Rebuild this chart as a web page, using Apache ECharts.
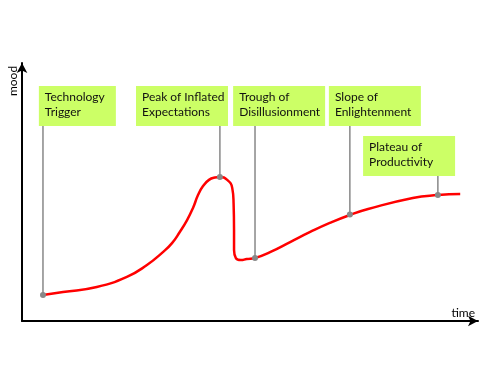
<!DOCTYPE html>
<html>
<head>
<meta charset="utf-8">
<script src="https://cdn.jsdelivr.net/npm/echarts@6/dist/echarts.min.js"></script>
<style>
html,body{margin:0;padding:0;background:#fff;}
#chart{width:500px;height:375px;}
</style>
</head>
<body>
<div id="chart"></div>
<script>
// Hype curve (time, mood), axes 0..100
const curveTime = [4.6, 9.0, 16.4, 23.0, 27.4, 30.9, 32.9, 34.6, 36.2, 37.5, 38.6, 39.7, 41.0, 42.3, 43.4, 45.0, 46.1, 46.4, 46.5, 46.5, 46.9, 48.0, 49.3, 51.1, 54.4, 58.8, 63.2, 67.5, 71.9, 75.9, 85.7, 91.2, 96.1];
const curveMood = [10.1, 11.2, 13.2, 17.1, 21.7, 26.7, 30.2, 34.5, 39.1, 43.8, 48.8, 52.3, 54.7, 55.6, 55.8, 54.7, 51.6, 45.7, 35.3, 27.5, 24.4, 23.6, 24.0, 24.4, 26.7, 30.6, 34.5, 38.0, 41.1, 43.4, 47.7, 48.8, 49.2];

// Phases
const phaseNames = ['Technology\nTrigger', 'Peak of Inflated\nExpectations', 'Trough of\nDisillusionment', 'Slope of\nEnlightenment', 'Plateau of\nProductivity'];
const phaseTime = [4.6, 43.4, 51.1, 71.9, 91.2];
const phaseMood = [10.1, 55.8, 24.4, 41.3, 48.8];

// Label box placement (layout: anchor in axis units, size in pixels)
const boxLeft = [3.7, 25.0, 46.3, 67.3, 74.8];
const boxTop = [91.1, 91.1, 91.1, 91.1, 71.7];
const boxWidth = [77, 92, 92, 92, 92];
const BOX_H = 40;

const axisNames = ['time', 'mood'];

const chart = echarts.init(document.getElementById('chart'), null, {renderer: 'canvas'});

const curveData = curveTime.map((t, i) => [t, curveMood[i]]);
const phaseData = phaseTime.map((t, i) => [t, phaseMood[i], boxLeft[i], boxTop[i], i]);

const axisCommon = {
  type: 'value', min: 0, max: 100,
  axisTick: {show: false}, axisLabel: {show: false}, splitLine: {show: false},
  axisLine: {show: true, symbol: ['none', 'arrow'], symbolSize: [8, 10], lineStyle: {color: '#000', width: 2}}
};

chart.setOption({
  animation: false,
  grid: {left: 22, right: 22, top: 63, bottom: 54},
  graphic: [{
    type: 'text', x: 13, y: 81, rotation: Math.PI / 2,
    style: {text: axisNames[1], align: 'center', verticalAlign: 'middle', font: '12px Lato', fill: '#000'}
  }],
  xAxis: Object.assign({}, axisCommon, {
    name: axisNames[0], nameLocation: 'end', nameGap: -3,
    nameTextStyle: {color: '#000', fontFamily: 'Lato', fontSize: 12, align: 'right', verticalAlign: 'bottom', padding: [0, 0, 2, 0]}
  }),
  yAxis: Object.assign({}, axisCommon),
  series: [
    {
      type: 'line', data: curveData, smooth: 0.5, showSymbol: false, z: 2,
      lineStyle: {color: '#ff0000', width: 2.5}
    },
    {
      type: 'custom', data: phaseData, z: 3, clip: false,
      encode: {x: 0, y: 1},
      renderItem: function (params, api) {
        const i = api.value(4);
        const p = api.coord([api.value(0), api.value(1)]);
        const tl = api.coord([api.value(2), api.value(3)]);
        const w = boxWidth[i];
        return {
          type: 'group',
          children: [
            {type: 'line', shape: {x1: p[0], y1: p[1], x2: p[0], y2: tl[1] + BOX_H}, style: {stroke: '#888', lineWidth: 1.5}},
            {type: 'rect', shape: {x: tl[0], y: tl[1], width: w, height: BOX_H}, style: {fill: '#ccff66'}},
            {type: 'text', style: {text: phaseNames[i], x: tl[0] + 6, y: tl[1] + BOX_H / 2 - 1, verticalAlign: 'middle', align: 'left', font: '12px Lato', lineHeight: 15, fill: '#111'}},
            {type: 'circle', shape: {cx: p[0], cy: p[1], r: 3}, style: {fill: '#888'}}
          ]
        };
      }
    }
  ]
});
</script>
</body>
</html>
